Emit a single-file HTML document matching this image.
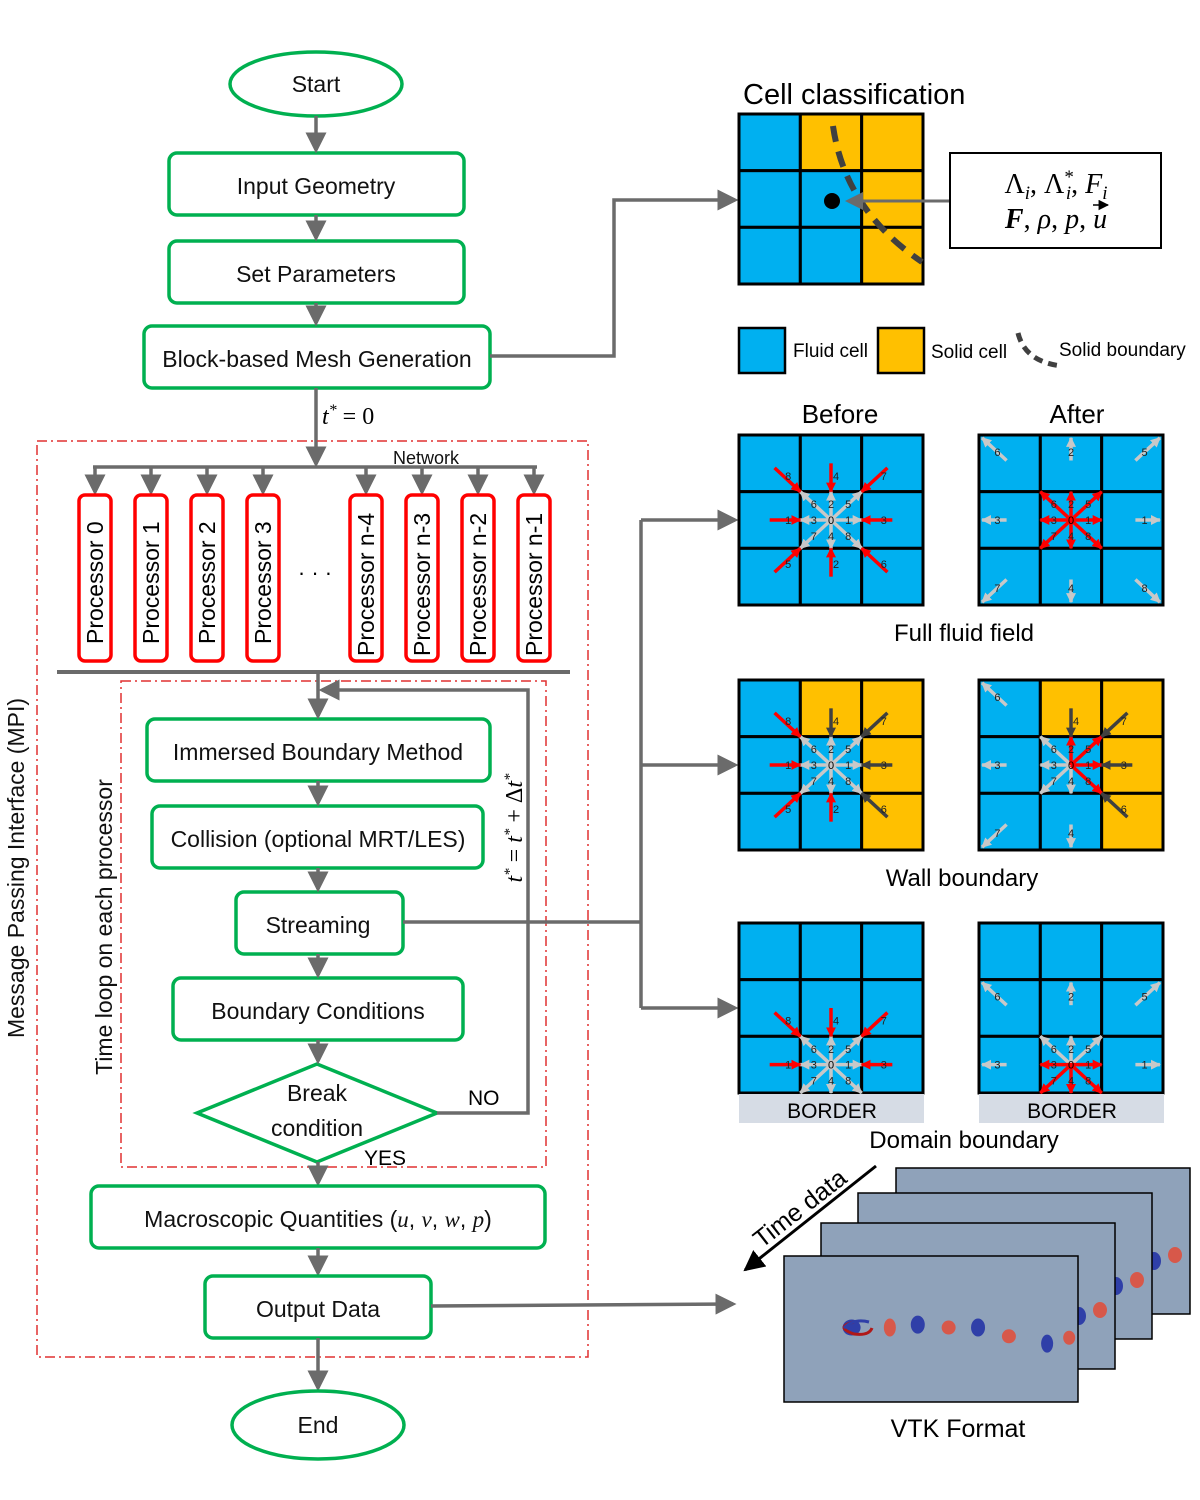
<!DOCTYPE html>
<html><head><meta charset="utf-8"><style>
html,body{margin:0;padding:0;background:#fff;}
svg{display:block;font-family:"Liberation Sans","DejaVu Sans",sans-serif;}
.b{fill:#fff;stroke:#00b050;stroke-width:3.5;}
.t{font-size:23px;fill:#111;text-anchor:middle;}
.c{stroke:#6b6b6b;stroke-width:3.5;fill:none;}
.m{font-family:"Liberation Serif",serif;font-style:italic;}
</style></head><body>
<svg id="s" width="1200" height="1500" viewBox="0 0 1200 1500" xmlns="http://www.w3.org/2000/svg">
<defs>
<marker id="ag" markerWidth="6" markerHeight="6" refX="5" refY="3" orient="auto" markerUnits="strokeWidth"><path d="M0,0 L6,3 L0,6 z" fill="#6b6b6b"/></marker>
<marker id="ar" viewBox="0 0 10 10" markerWidth="10" markerHeight="10" refX="9" refY="5" orient="auto" markerUnits="userSpaceOnUse"><path d="M0,0 L10,5 L0,10 z" fill="#ff0000"/></marker>
<marker id="aw" viewBox="0 0 10 10" markerWidth="10" markerHeight="10" refX="9" refY="5" orient="auto" markerUnits="userSpaceOnUse"><path d="M0,0 L10,5 L0,10 z" fill="#c8c8c8"/></marker>
<marker id="ad" viewBox="0 0 10 10" markerWidth="10" markerHeight="10" refX="9" refY="5" orient="auto" markerUnits="userSpaceOnUse"><path d="M0,0 L10,5 L0,10 z" fill="#404040"/></marker>
<marker id="ak" viewBox="0 0 10 10" markerWidth="7" markerHeight="7" refX="9" refY="5" orient="auto" markerUnits="strokeWidth"><path d="M0,0 L10,5 L0,10 z" fill="#000"/></marker>
</defs>

<ellipse class="b" cx="316" cy="84" rx="86" ry="32"/><text class="t" x="316" y="92">Start</text>
<rect class="b" x="169" y="153" width="295" height="62" rx="8"/><text class="t" x="316" y="194">Input Geometry</text>
<rect class="b" x="169" y="241" width="295" height="62" rx="8"/><text class="t" x="316" y="282">Set Parameters</text>
<rect class="b" x="144" y="326" width="346" height="62" rx="8"/><text class="t" x="317" y="367">Block-based Mesh Generation</text>
<line class="c" x1="316" y1="116" x2="316" y2="150" marker-end="url(#ag)"/>
<line class="c" x1="316" y1="215" x2="316" y2="238" marker-end="url(#ag)"/>
<line class="c" x1="316" y1="303" x2="316" y2="323" marker-end="url(#ag)"/>
<line class="c" x1="316" y1="388" x2="316" y2="464" marker-end="url(#ag)"/>
<text x="322" y="424" font-size="24" class="m">t<tspan dy="-9" font-size="16">*</tspan><tspan dy="9" font-style="normal"> = 0</tspan></text>

<rect x="37" y="441" width="551" height="916" fill="none" stroke="#e03030" stroke-width="1.5" stroke-dasharray="10,4,2,4"/>
<text x="393" y="464" font-size="18" fill="#111">Network</text>
<line class="c" x1="93" y1="467" x2="537" y2="467"/>
<g id="procs"></g>
<line x1="57" y1="672" x2="570" y2="672" stroke="#6b6b6b" stroke-width="4"/>
<text x="315" y="580" font-size="22" text-anchor="middle">· · ·</text>
<text transform="translate(24,868) rotate(-90)" font-size="23" text-anchor="middle" fill="#111">Message Passing Interface (MPI)</text>

<rect x="121" y="681" width="425" height="486" fill="none" stroke="#e03030" stroke-width="1.5" stroke-dasharray="10,4,2,4"/>
<text transform="translate(112,927) rotate(-90)" font-size="23" text-anchor="middle" fill="#111">Time loop on each processor</text>

<rect class="b" x="147" y="719" width="343" height="62" rx="8"/><text class="t" x="318" y="760">Immersed Boundary Method</text>
<rect class="b" x="152" y="806" width="331" height="62" rx="8"/><text class="t" x="318" y="847">Collision (optional MRT/LES)</text>
<rect class="b" x="236" y="892" width="167" height="62" rx="8"/><text class="t" x="318" y="933">Streaming</text>
<rect class="b" x="173" y="978" width="290" height="62" rx="8"/><text class="t" x="318" y="1019">Boundary Conditions</text>
<polygon class="b" points="317,1064 437,1113 317,1162 197,1113"/>
<text class="t" x="317" y="1101">Break</text><text class="t" x="317" y="1136">condition</text>
<text x="468" y="1105" font-size="21">NO</text>
<text x="364" y="1165" font-size="21">YES</text>
<line class="c" x1="318" y1="672" x2="318" y2="716" marker-end="url(#ag)"/>
<line class="c" x1="318" y1="781" x2="318" y2="803" marker-end="url(#ag)"/>
<line class="c" x1="318" y1="868" x2="318" y2="889" marker-end="url(#ag)"/>
<line class="c" x1="318" y1="954" x2="318" y2="975" marker-end="url(#ag)"/>
<line class="c" x1="318" y1="1040" x2="318" y2="1061" marker-end="url(#ag)"/>
<polyline class="c" points="437,1113 528,1113 528,690 322,690" marker-end="url(#ag)"/>
<text transform="translate(522,828) rotate(-90)" font-size="24" text-anchor="middle" class="m">t<tspan dy="-8" font-size="15">*</tspan><tspan dy="8" font-style="normal"> = </tspan>t<tspan dy="-8" font-size="15">*</tspan><tspan dy="8" font-style="normal"> + Δ</tspan>t<tspan dy="-8" font-size="15">*</tspan></text>
<line class="c" x1="318" y1="1162" x2="318" y2="1183" marker-end="url(#ag)"/>
<rect class="b" x="91" y="1186" width="454" height="62" rx="8"/><text class="t" x="318" y="1227">Macroscopic Quantities (<tspan class="m">u</tspan>, <tspan class="m">v</tspan>, <tspan class="m">w</tspan>, <tspan class="m">p</tspan>)</text>
<line class="c" x1="318" y1="1248" x2="318" y2="1273" marker-end="url(#ag)"/>
<rect class="b" x="205" y="1276" width="226" height="62" rx="8"/><text class="t" x="318" y="1317">Output Data</text>
<line class="c" x1="318" y1="1338" x2="318" y2="1388" marker-end="url(#ag)"/>
<ellipse class="b" cx="318" cy="1425" rx="86" ry="34"/><text class="t" x="318" y="1433">End</text>

<polyline class="c" points="490,356 614,356 614,200 735,200" marker-end="url(#ag)"/>
<line class="c" x1="403" y1="922" x2="641" y2="922"/>
<line class="c" x1="641" y1="520" x2="641" y2="1008"/>
<line class="c" x1="641" y1="520" x2="735" y2="520" marker-end="url(#ag)"/>
<line class="c" x1="641" y1="765" x2="735" y2="765" marker-end="url(#ag)"/>
<line class="c" x1="641" y1="1008" x2="735" y2="1008" marker-end="url(#ag)"/>
<line class="c" x1="431" y1="1306" x2="733" y2="1304" marker-end="url(#ag)"/>

<text x="743" y="104" font-size="29">Cell classification</text>
<g id="cc"></g>
<path d="M833,126 Q845,210 922,262" fill="none" stroke="#404040" stroke-width="6" stroke-dasharray="16,10"/>
<circle cx="832" cy="201" r="8" fill="#000"/>
<line x1="950" y1="201" x2="848" y2="201" stroke="#6b6b6b" stroke-width="3" marker-end="url(#ag)"/>
<rect x="950" y="153" width="211" height="95" fill="#fff" stroke="#000" stroke-width="2"/>
<text x="1056" y="193" font-size="28" text-anchor="middle" font-family="Liberation Serif, serif">Λ<tspan font-size="19" dy="6" font-style="italic">i</tspan><tspan dy="-6">, </tspan>Λ<tspan font-size="19" dy="-10">*</tspan><tspan font-size="19" dx="-8" dy="16" font-style="italic">i</tspan><tspan dy="-6">, </tspan><tspan font-style="italic">F</tspan><tspan font-size="19" dy="6" font-style="italic">i</tspan></text>
<text x="1056" y="228" font-size="28" text-anchor="middle" class="m"><tspan font-weight="bold">F</tspan><tspan font-style="normal">, </tspan>ρ<tspan font-style="normal">, </tspan>p<tspan font-style="normal">, </tspan>u</text>
<line x1="1093" y1="205" x2="1108" y2="205" stroke="#000" stroke-width="1.5" marker-end="url(#ak)"/>

<rect x="739" y="328" width="46" height="45" fill="#00b0f0" stroke="#000" stroke-width="2.5"/>
<text x="793" y="357" font-size="19">Fluid cell</text>
<rect x="878" y="328" width="46" height="45" fill="#ffc000" stroke="#000" stroke-width="2.5"/>
<text x="931" y="358" font-size="19">Solid cell</text>
<path d="M1018,333 Q1025,362 1062,366" fill="none" stroke="#404040" stroke-width="5" stroke-dasharray="9,6"/>
<text x="1059" y="356" font-size="19">Solid boundary</text>

<text x="840" y="423" font-size="26" text-anchor="middle">Before</text>
<text x="1077" y="423" font-size="26" text-anchor="middle">After</text>
<g id="grids"></g>
<text x="964" y="641" font-size="24" text-anchor="middle">Full fluid field</text>
<text x="962" y="886" font-size="24" text-anchor="middle">Wall boundary</text>
<rect x="739" y="1094" width="185" height="29" fill="#d6dce5"/>
<rect x="979" y="1094" width="185" height="29" fill="#d6dce5"/>
<text x="832" y="1118" font-size="21" text-anchor="middle">BORDER</text>
<text x="1072" y="1118" font-size="21" text-anchor="middle">BORDER</text>
<text x="964" y="1148" font-size="24" text-anchor="middle">Domain boundary</text>

<g id="vtk"></g>
<line x1="876" y1="1166" x2="745" y2="1270" stroke="#000" stroke-width="3" marker-end="url(#ak)"/>
<text transform="translate(805,1215) rotate(-38)" font-size="25" text-anchor="middle">Time data</text>
<text x="958" y="1437" font-size="25" text-anchor="middle">VTK Format</text>
</svg>
<script>
var NS="http://www.w3.org/2000/svg";
function el(p,t,a,txt){var e=document.createElementNS(NS,t);for(var k in a)e.setAttribute(k,a[k]);if(txt!=null)e.textContent=txt;p.appendChild(e);return e;}
var P=document.getElementById('procs');
var px=[95,151,207,263,366,422,478,534],pl=['Processor 0','Processor 1','Processor 2','Processor 3','Processor n-4','Processor n-3','Processor n-2','Processor n-1'];
px.forEach(function(x,i){
 el(P,'line',{x1:x,y1:467,x2:x,y2:492,stroke:'#6b6b6b','stroke-width':3.5,'marker-end':'url(#ag)'});
 el(P,'rect',{x:x-16,y:495,width:32,height:166,rx:6,fill:'#fff',stroke:'#ff0000','stroke-width':3.5});
 el(P,'text',{transform:'translate('+(x+8)+','+(i<4?644:656)+') rotate(-90)','font-size':23},pl[i]);
});
var B='#00b0f0',Y='#ffc000';
function grid(g,x0,y0,cols){
 var cw=184/3,ch=170/3;
 for(var r=0;r<3;r++)for(var c=0;c<3;c++)el(g,'rect',{x:x0+c*cw,y:y0+r*ch,width:cw,height:ch,fill:cols[r*3+c],stroke:'#000','stroke-width':3});
}
var cc=document.getElementById('cc');
grid(cc,739,114,[B,Y,Y,B,B,Y,B,B,Y]);
var G=document.getElementById('grids');
var D={R:[1,0],U:[0,-1],L:[-1,0],D:[0,1],UR:[1,-1],UL:[-1,-1],DL:[-1,1],DR:[1,1]};
var LB={R:'1',U:'2',L:'3',D:'4',UR:'5',UL:'6',DL:'7',DR:'8'};
var INL={UL:'8',U:'4',UR:'7',L:'1',R:'3',DL:'5',D:'2',DR:'6'};
var COL={r:'#ff0000',w:'#c8c8c8',d:'#404040'},MK={r:'ar',w:'aw',d:'ad'};
function arr(x1,y1,x2,y2,k,lab,lx,ly){
 el(G,'line',{x1:x1,y1:y1,x2:x2,y2:y2,stroke:COL[k],'stroke-width':3.5,'marker-end':'url(#'+MK[k]+')'});
 if(lab)el(G,'text',{x:lx,y:ly+4,'font-size':11,'text-anchor':'middle',fill:'#222'},lab);
}
function lbg(x0,y0,cols,crow,spec){
 grid(G,x0,y0,cols);
 var cw=184/3,ch=170/3,cx=x0+1.5*cw,cy=y0+(crow+0.5)*ch;
 function P(d,s){return [cx+D[d][0]*s*cw,cy+D[d][1]*s*ch];}
 (spec.cen||[]).forEach(function(a){var e=P(a[0],0.5),m=P(a[0],0.28);arr(cx,cy,e[0],e[1],a[1],LB[a[0]],m[0],m[1]);});
 if(spec.cen)el(G,'text',{x:cx,y:cy+4,'font-size':11,'text-anchor':'middle'},'0');
 (spec.inc||[]).forEach(function(a){var d=a[0],diag=D[d][0]&&D[d][1];var s=P(d,diag?0.92:1.0),e=P(d,0.5),m=P(d,0.78);arr(s[0],s[1],e[0],e[1],a[1],INL[d],m[0]+5,m[1]);});
 (spec.out||[]).forEach(function(a){var d=a[0],diag=D[d][0]&&D[d][1];var s=P(d,diag?1.05:1.05),e=P(d,1.45),m=P(d,1.2);arr(s[0],s[1],e[0],e[1],a[1],LB[d],m[0],m[1]);});
}
var all=['R','U','L','D','UR','UL','DL','DR'];
function m(list,k){return list.map(function(d){return [d,k];});}
var BB=[B,B,B,B,B,B,B,B,B];
lbg(739,435,BB,1,{cen:m(all,'w'),inc:m(all,'r')});
lbg(979,435,BB,1,{cen:m(all,'r'),out:m(all,'w')});
var WC=[B,Y,Y,B,B,Y,B,B,Y];
lbg(739,680,WC,1,{cen:m(all,'w'),inc:m(['UL','L','DL','D'],'r').concat(m(['U','UR','R','DR'],'d'))});
lbg(979,680,WC,1,{cen:m(['L','UL','DL','D'],'w').concat(m(['U','UR','R','DR'],'r')),inc:m(['U','UR','R','DR'],'d'),out:m(['UL','L','DL','D'],'w')});
lbg(739,923,BB,2,{cen:m(all,'w'),inc:m(['UL','U','UR','L','R'],'r')});
lbg(979,923,BB,2,{cen:m(['U','UL','UR'],'w').concat(m(['L','R','D','DL','DR'],'r')),out:m(['U','UL','UR','L','R'],'w')});
var V=document.getElementById('vtk');
var fr=[[896,1168],[858,1193],[821,1223],[784,1256]];
fr.forEach(function(f,i){
 el(V,'rect',{x:f[0],y:f[1],width:294,height:146,fill:'#8fa2ba',stroke:'#000','stroke-width':1.5});
 if(i<3){el(V,'ellipse',{cx:f[0]+258,cy:f[1]+93,rx:7,ry:9,fill:'#2f3fa8'});el(V,'ellipse',{cx:f[0]+279,cy:f[1]+87,rx:7,ry:8,fill:'#d7584a'});}
});
var f=fr[3];
[[0.23,0.49,'#2f3fa8',9,8],[0.36,0.49,'#d7584a',6,9],[0.455,0.47,'#2f3fa8',7,9],[0.56,0.49,'#d7584a',7,7],[0.66,0.49,'#2f3fa8',7,9],[0.765,0.55,'#d7584a',7,7],[0.895,0.6,'#2f3fa8',6,9],[0.97,0.56,'#d7584a',6,7]].forEach(function(b){
 el(V,'ellipse',{cx:f[0]+b[0]*294,cy:f[1]+b[1]*146,rx:b[3],ry:b[4],fill:b[2]});
});
el(V,'path',{d:'M'+(f[0]+70)+','+(f[1]+66)+' q-20,5 0,12 q15,2 18,-6',fill:'none',stroke:'#b01818','stroke-width':3});
el(V,'path',{d:'M'+(f[0]+60)+','+(f[1]+72)+' q10,-10 25,-6',fill:'none',stroke:'#2f3fa8','stroke-width':3});
</script>
</body></html>
